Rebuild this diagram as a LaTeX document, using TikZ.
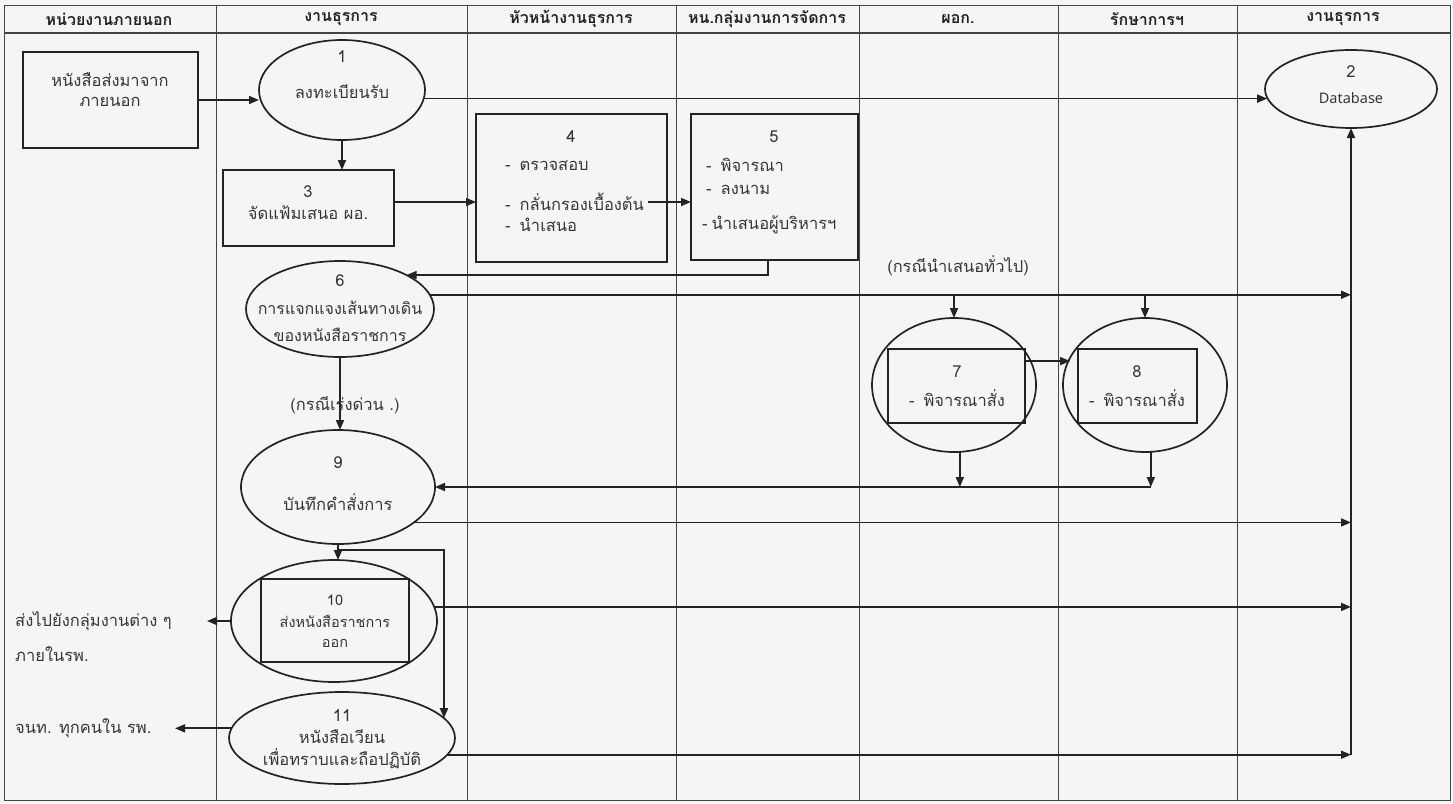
\documentclass[tikz,border=0pt]{standalone}
\usepackage{fontspec}
\setmainfont[Script=Thai]{Loma}
\newfontfamily\latinfont{Noto Sans}
\usetikzlibrary{arrows.meta,shapes.geometric,calc}
\definecolor{paper}{RGB}{245,245,248}
\definecolor{ink}{RGB}{35,35,38}
\definecolor{txt}{RGB}{55,55,58}
\begin{document}
\begin{tikzpicture}[x=1pt,y=-1pt,
  grid/.style={draw=ink!85, line width=0.9pt},
  shp/.style={draw=ink, line width=1.7pt, inner sep=0pt, outer sep=0pt},
  ell/.style={shp, ellipse},
  box/.style={shp, rectangle},
  arr/.style={draw=ink, line width=1.7pt, -{Triangle[length=10pt,width=8pt]}},
  t/.style={text=txt, inner sep=0pt, font=\fontsize{16.5}{18}\selectfont},
  ts/.style={t, font=\fontsize{16}{18}\selectfont},
  tss/.style={t, font=\fontsize{14.5}{16}\selectfont},
  hd/.style={t, text=ink, font=\fontsize{16}{18}\selectfont\bfseries},
]
\fill[paper] (0,0) rectangle (1453,803);
\useasboundingbox (0,0) rectangle (1453,803);
% lanes
\draw[grid] (4,5) rectangle (1450,800);
\draw[grid, line width=1.3pt] (4,33) -- (1450,33);
\foreach \x in {216,467,676,859,1058,1237} \draw[grid] (\x,5) -- (\x,800);
% headers
\node[hd] (h1) at (109,19) {หน่วยงานภายนอก};
\node[hd] (h2) at (341,19) {งานธุรการ};
\node[hd] (h3) at (571,19) {หัวหน้างานธุรการ};
\node[hd] (h4) at (767,19) {หน.กลุ่มงานการจัดการ};
\node[hd] (h5) at (958,19) {ผอก.};
\node[hd] (h6) at (1147,19) {รักษาการฯ};
\node[hd] (h7) at (1343,19) {งานธุรการ};
% shapes
\node[box, minimum width=175pt, minimum height=96pt] (ext) at (110.5,100) {};
\node[ell, minimum width=166pt, minimum height=100pt] (e1) at (342,90) {};
\node[ell, minimum width=172pt, minimum height=78pt] (e2) at (1351,89) {};
\node[box, minimum width=171pt, minimum height=76pt] (b3) at (308.5,208) {};
\node[box, minimum width=191pt, minimum height=148pt] (b4) at (571.5,188) {};
\node[box, minimum width=167pt, minimum height=146pt] (b5) at (774.5,187) {};
\node[ell, minimum width=188pt, minimum height=96pt] (e6) at (340,309) {};
\node[ell, minimum width=164pt, minimum height=134pt] (e7) at (954,385) {};
\node[box, minimum width=137pt, minimum height=74pt] (r7) at (956.5,386) {};
\node[ell, minimum width=164pt, minimum height=134pt] (e8) at (1145,385) {};
\node[box, minimum width=119pt, minimum height=74pt] (r8) at (1137.5,386) {};
\node[ell, minimum width=194pt, minimum height=114pt] (e9) at (338,487) {};
\node[ell, minimum width=206pt, minimum height=122pt] (e10) at (334,621) {};
\node[box, minimum width=148pt, minimum height=83pt] (r10) at (335,620.5) {};
\node[ell, minimum width=226pt, minimum height=92pt] (e11) at (342,738) {};
% texts
\node[t] (text) at (110,80) {หนังสือส่งมาจาก};
\node[t] (text2) at (110,102) {ภายนอก};
\node[t] (t1n) at (342,57) {1};
\node[t] (t1) at (342,92) {ลงทะเบียนรับ};
\node[t] (t2n) at (1351,72) {2};
\node[t, font=\fontsize{14.5}{16}\selectfont\latinfont] (t2) at (1351,98) {Database};
\node[t] (t3n) at (308,192) {3};
\node[t] (t3) at (308,213) {จัดแฟ้มเสนอ ผอ.};
\node[t] (t4n) at (571,137) {4};
\node[t, anchor=west] (t4a) at (505,166) {-\hspace{9pt}ตรวจสอบ};
\node[t, anchor=west] (t4b) at (505,202) {-\hspace{9pt}กลั่นกรองเบื้องต้น};
\node[t, anchor=west] (t4c) at (505,225) {-\hspace{9pt}นำเสนอ};
\node[t] (t5n) at (774,137) {5};
\node[t, anchor=west] (t5a) at (706,165) {-\hspace{9pt}พิจารณา};
\node[t, anchor=west] (t5b) at (706,190) {-\hspace{9pt}ลงนาม};
\node[t, anchor=west] (t5c) at (702,225) {-\hspace{4pt}นำเสนอผู้บริหารฯ};
\node[t] (t6n) at (340,281) {6};
\node[ts] (t6a) at (340,308) {การแจกแจงเส้นทางเดิน};
\node[ts] (t6b) at (340,335) {ของหนังสือราชการ};
\node[t] (lg) at (958,266) {(กรณีนำเสนอทั่วไป)};
\node[t] (t7n) at (957,372) {7};
\node[t] (t7) at (957,398) {-\hspace{9pt}พิจารณาสั่ง};
\node[t] (t8n) at (1137,372) {8};
\node[t] (t8) at (1137,398) {-\hspace{9pt}พิจารณาสั่ง};
\node[t] (t9n) at (338,463) {9};
\node[t] (t9) at (338,502) {บันทึกคำสั่งการ};
\node[tss] (t10n) at (335,600) {10};
\node[tss] (t10a) at (335,621) {ส่งหนังสือราชการ};
\node[tss] (t10b) at (335,643) {ออก};
\node[t] (t11n) at (342,716) {11};
\node[t] (t11a) at (342,737) {หนังสือเวียน};
\node[t] (t11b) at (342,759) {เพื่อทราบและถือปฏิบัติ};
\node[t, anchor=west] (o10a) at (15,621) {ส่งไปยังกลุ่มงานต่าง ๆ};
\node[t, anchor=west] (o10b) at (15,654) {ภายในรพ.};
\node[t, anchor=west] (o11a) at (15,728) {จนท. ทุกคนใน รพ.};
% coordinates
\coordinate (dbb) at (1351,755);
\coordinate (o10) at (207,621);
\coordinate (o11) at (175,728);
% connectors
\draw[arr] (ext.east) -- (ext.east -| e1.west);
\draw[arr] (e1.-6) -- (e1.-6 -| e2.186);
\draw[arr] (e1.south) -- (e1.south |- b3.north);
\draw[arr] (b3.4) -- (b3.4 -| b4.west);
\draw[arr] ($(t4b.east)+(4,0)$) -- (t4b.east -| b5.west);
\draw[arr] (b5.-95) |- (e6.27);
\draw[arr] (e6.9) -- (e6.9 -| dbb);
\draw[arr] (e7.north |- e6.9) -- (e7.north);
\draw[arr] (e8.north |- e6.9) -- (e8.north);
\draw[arr] (r7.20) -- (r7.20 -| e8.160);
\draw[arr] (e7.-85) -- (e7.-85 |- e9.east);
\draw[arr] (e8.-85) -- (e8.-85 |- e9.east);
\draw[arr] (e8.-85 |- e9.east) -- (e9.east);
\draw[arr] (e6.south) -- (e6.south |- e9.north);
\draw[arr] (e9.-25) -- (e9.-25 -| dbb);
\draw[arr] (e9.south) -- (e9.south |- e10.north);
\draw[arr] ($(e9.south)+(0,6)$) -| (e11.11);
\draw[arr] (e10.8) -- (e10.8 -| dbb);
\draw[arr] (e10.west) -- (o10);
\draw[arr] (e11.175) -- (e11.175 -| o11);
\draw[arr] (e11.-9) -- (e11.-9 -| dbb);
\draw[arr] (dbb) -- (e2.south);
\node[t] (lu) at (345,405) {(กรณีเร่งด่วน .)};
\end{tikzpicture}
\end{document}
